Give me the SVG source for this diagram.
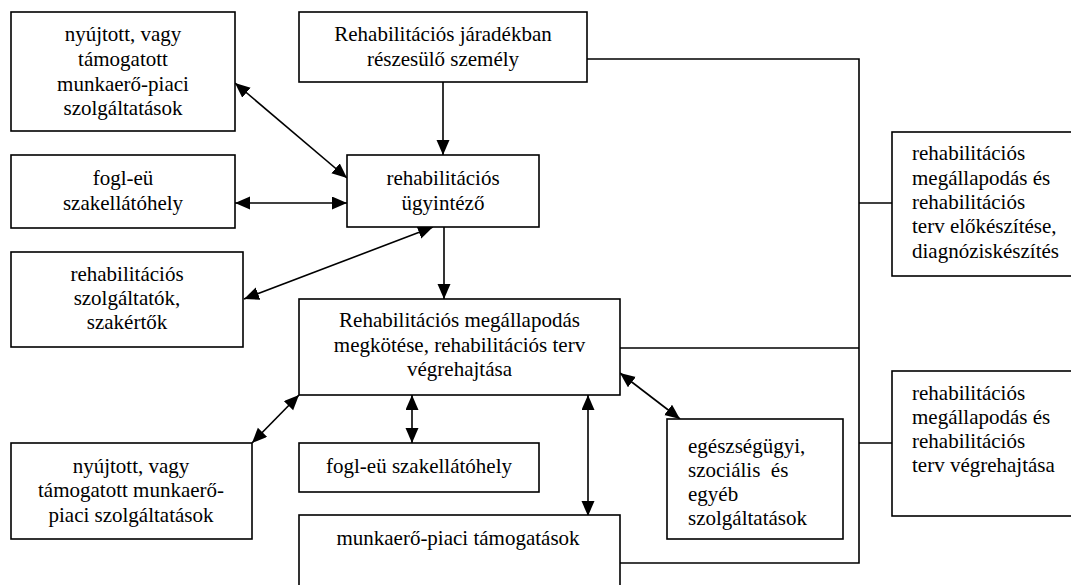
<svg xmlns="http://www.w3.org/2000/svg" width="1071" height="585" viewBox="0 0 1071 585">
<style>
.box{fill:#fff;stroke:#000;stroke-width:1.6}
text{font-family:"Liberation Serif","Times New Roman",Times,serif;font-size:21px;fill:#000}
.c{text-anchor:middle}
.ln{fill:none;stroke:#000;stroke-width:1.6}
</style>
<defs>
<marker id="ah" markerUnits="userSpaceOnUse" markerWidth="16" markerHeight="14" refX="15" refY="6.5" orient="auto-start-reverse">
<path d="M0,0 L15,6.5 L0,13 z" fill="#000"/>
</marker>
</defs>
<rect width="1071" height="585" fill="#fff"/>
<g id="connectors">
<polyline class="ln" points="587,59 859,59 859,563 620,563"/>
<line class="ln" x1="620" y1="348" x2="859" y2="348"/>
<line class="ln" x1="859" y1="203" x2="892" y2="203"/>
<line class="ln" x1="859" y1="443" x2="892" y2="443"/>
<line class="ln" x1="443" y1="82" x2="443" y2="155" marker-end="url(#ah)"/>
<line class="ln" x1="235" y1="83" x2="347" y2="178" marker-start="url(#ah)" marker-end="url(#ah)"/>
<line class="ln" x1="235" y1="203" x2="347" y2="203" marker-start="url(#ah)" marker-end="url(#ah)"/>
<line class="ln" x1="244" y1="299" x2="433" y2="227" marker-start="url(#ah)" marker-end="url(#ah)"/>
<line class="ln" x1="444" y1="227" x2="444" y2="299" marker-end="url(#ah)"/>
<line class="ln" x1="299" y1="395" x2="252" y2="443" marker-start="url(#ah)" marker-end="url(#ah)"/>
<line class="ln" x1="412" y1="395" x2="412" y2="443" marker-start="url(#ah)" marker-end="url(#ah)"/>
<line class="ln" x1="588" y1="395" x2="588" y2="516" marker-start="url(#ah)" marker-end="url(#ah)"/>
<line class="ln" x1="620" y1="373" x2="680" y2="419" marker-start="url(#ah)" marker-end="url(#ah)"/>
</g>
<g id="n-nyujtott1">
<rect class="box" x="11" y="12" width="224" height="119"/>
<text class="c" x="123" y="41">nyújtott, vagy</text>
<text class="c" x="123" y="66">támogatott</text>
<text class="c" x="123" y="91">munkaerő-piaci</text>
<text class="c" x="123" y="115">szolgáltatások</text>
</g>
<g id="n-fogl1">
<rect class="box" x="11" y="155" width="224" height="73"/>
<text class="c" x="123" y="185">fogl-eü</text>
<text class="c" x="123" y="210">szakellátóhely</text>
</g>
<g id="n-jaradek">
<rect class="box" x="299" y="12" width="288" height="70"/>
<text class="c" x="443" y="41">Rehabilitációs járadékban</text>
<text class="c" x="443" y="66">részesülő személy</text>
</g>
<g id="n-ugyintezo">
<rect class="box" x="347" y="155" width="192" height="72"/>
<text class="c" x="443" y="185">rehabilitációs</text>
<text class="c" x="443" y="210">ügyintéző</text>
</g>
<g id="n-szolgaltatok">
<rect class="box" x="11" y="252" width="232" height="95"/>
<text class="c" x="127" y="281">rehabilitációs</text>
<text class="c" x="127" y="305">szolgáltatók,</text>
<text class="c" x="127" y="329">szakértők</text>
</g>
<g id="n-main">
<rect class="box" x="299" y="299" width="321" height="96"/>
<text class="c" x="459.5" y="327">Rehabilitációs megállapodás</text>
<text class="c" x="459.5" y="352">megkötése, rehabilitációs terv</text>
<text class="c" x="459.5" y="376">végrehajtása</text>
</g>
<g id="n-nyujtott2">
<rect class="box" x="11" y="443" width="241" height="96"/>
<text class="c" x="131" y="473">nyújtott, vagy</text>
<text class="c" x="131" y="497">támogatott munkaerő-</text>
<text class="c" x="131" y="522">piaci szolgáltatások</text>
</g>
<g id="n-fogl2">
<rect class="box" x="299" y="443" width="240" height="49"/>
<text class="c" x="419" y="473">fogl-eü szakellátóhely</text>
</g>
<g id="n-munkaero">
<rect class="box" x="299" y="515" width="321" height="80"/>
<text class="c" x="458" y="545">munkaerő-piaci támogatások</text>
</g>
<g id="n-egeszseg">
<rect class="box" x="667" y="419" width="176" height="120"/>
<text x="688" y="453">egészségügyi,</text>
<text x="688" y="477" xml:space="preserve">szociális  és</text>
<text x="688" y="501">egyéb</text>
<text x="688" y="525">szolgáltatások</text>
</g>
<g id="n-elokeszites">
<rect class="box" x="892" y="132" width="190" height="144"/>
<text x="912" y="160">rehabilitációs</text>
<text x="912" y="185">megállapodás és</text>
<text x="912" y="209">rehabilitációs</text>
<text x="912" y="233">terv előkészítése,</text>
<text x="912" y="258">diagnóziskészítés</text>
</g>
<g id="n-vegrehajtas">
<rect class="box" x="892" y="371" width="190" height="145"/>
<text x="912" y="400">rehabilitációs</text>
<text x="912" y="424">megállapodás és</text>
<text x="912" y="448">rehabilitációs</text>
<text x="912" y="472">terv végrehajtása</text>
</g>
</svg>
